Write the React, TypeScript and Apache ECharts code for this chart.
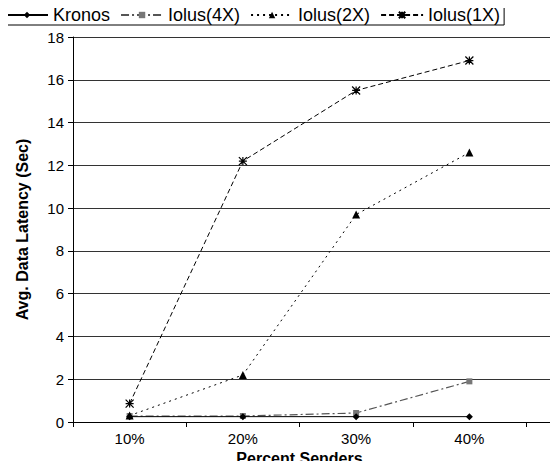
import React, { useEffect, useRef } from "react";
import * as echarts from "echarts";

const categories = ["10%", "20%", "30%", "40%"];
const kronos = [0.25, 0.25, 0.25, 0.25];
const iolus4x = [0.28, 0.28, 0.42, 1.9];
const iolus2x = [0.3, 2.2, 9.7, 12.6];
const iolus1x = [0.86, 12.2, 15.5, 16.9];
const yMin = 0;
const yMax = 18;
const yStep = 2;

const ASTERISK = "path://M0,0L10,10M10,0L0,10M5,0L5,10M0,5L10,5";
const FONT = "Liberation Sans, Arial, sans-serif";

export default function App() {
  const ref = useRef<HTMLDivElement>(null);
  useEffect(() => {
    if (!ref.current) return;
    const chart = echarts.init(ref.current, undefined, { renderer: "svg" });
    const left = 73;
    const top = 37;
    const height = 385;
    chart.setOption({
      animation: false,
      backgroundColor: "#fff",
      textStyle: { fontFamily: FONT },
      legend: {
        left: 3,
        top: 5,
        itemWidth: 42,
        itemHeight: 8,
        itemGap: 10,
        padding: [1, 4, 1, 2],
        borderColor: "#000",
        borderWidth: 1,
        borderRadius: 0,
        textStyle: { fontSize: 18, lineHeight: 18, color: "#000", fontFamily: FONT },
        data: ["Kronos", "Iolus(4X)", "Iolus(2X)", "Iolus(1X)"],
      },
      grid: [
        { left, top, width: 453, height, containLabel: false, outerBoundsMode: "none" },
        { left, top, right: 2, height, containLabel: false, outerBoundsMode: "none" },
      ],
      xAxis: [
        {
          type: "category",
          gridIndex: 0,
          data: categories,
          boundaryGap: true,
          axisLine: { show: true, lineStyle: { color: "#000", width: 1 } },
          axisTick: { show: true, length: 5, inside: false, lineStyle: { color: "#000" } },
          axisLabel: { fontSize: 15, color: "#000", margin: 9, fontFamily: FONT },
          name: "Percent Senders",
          nameLocation: "middle",
          nameGap: 22,
          nameTextStyle: { fontSize: 16, fontWeight: "bold", color: "#000", fontFamily: FONT },
          z: 3,
        },
        {
          type: "value",
          gridIndex: 1,
          min: 0,
          max: 1,
          axisLine: { show: true, lineStyle: { color: "#000", width: 1 } },
          axisTick: { show: false },
          axisLabel: { show: false },
          splitLine: { show: false },
        },
      ],
      yAxis: [
        {
          type: "value",
          gridIndex: 0,
          min: yMin,
          max: yMax,
          interval: yStep,
          axisLine: { show: false },
          axisTick: { show: false },
          axisLabel: { show: false },
          splitLine: { show: false },
        },
        {
          type: "value",
          gridIndex: 1,
          min: yMin,
          max: yMax,
          interval: yStep,
          axisLine: { show: true, lineStyle: { color: "#000", width: 1 } },
          axisTick: { show: true, length: 5, lineStyle: { color: "#000" } },
          axisLabel: { fontSize: 15, color: "#000", margin: 9, fontFamily: FONT },
          splitLine: { show: true, lineStyle: { color: "#333", width: 1 } },
          name: "Avg. Data Latency (Sec)",
          nameLocation: "middle",
          nameGap: 43,
          nameTextStyle: { fontSize: 16, fontWeight: "bold", color: "#000", fontFamily: FONT },
        },
      ],
      series: [
        {
          name: "Kronos",
          type: "line",
          xAxisIndex: 0,
          yAxisIndex: 0,
          data: kronos,
          symbol: "diamond",
          symbolSize: 7,
          showAllSymbol: true,
          lineStyle: { color: "#000", width: 1, type: "solid" },
          itemStyle: { color: "#000" },
          z: 5,
        },
        {
          name: "Iolus(4X)",
          type: "line",
          xAxisIndex: 0,
          yAxisIndex: 0,
          data: iolus4x,
          symbol: "rect",
          symbolSize: 6,
          lineStyle: { color: "#555", width: 1.2, type: [8, 3, 2, 3] },
          itemStyle: { color: "#777" },
          z: 4,
        },
        {
          name: "Iolus(2X)",
          type: "line",
          xAxisIndex: 0,
          yAxisIndex: 0,
          data: iolus2x,
          symbol: "triangle",
          symbolSize: 8,
          lineStyle: { color: "#000", width: 1, type: [2, 4] },
          itemStyle: { color: "#000" },
          z: 4,
        },
        {
          name: "Iolus(1X)",
          type: "line",
          xAxisIndex: 0,
          yAxisIndex: 0,
          data: iolus1x,
          symbol: ASTERISK,
          symbolSize: 8,
          lineStyle: { color: "#000", width: 1, type: [5, 3] },
          itemStyle: { color: "#000", borderColor: "#000", borderWidth: 1.2 },
          z: 4,
        },
      ],
    });
    return () => chart.dispose();
  }, []);
  return <div ref={ref} style={{ width: 558, height: 469, margin: -8 }} />;
}
